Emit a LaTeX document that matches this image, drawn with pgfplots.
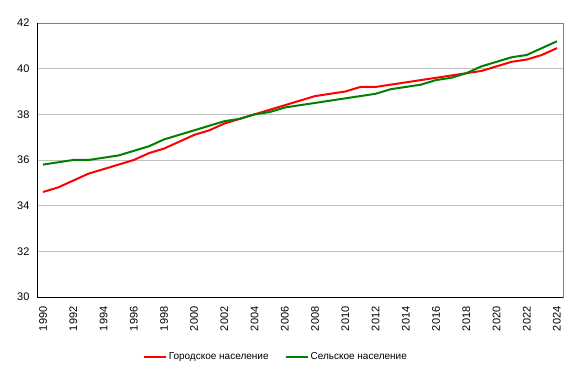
\documentclass[border=0pt]{standalone}
\usepackage{pgfplots}
\pgfplotsset{compat=1.18}
\usepackage{fontspec}
\setmainfont{Liberation Sans}
\definecolor{urb}{RGB}{255,0,0}
\definecolor{rur}{RGB}{0,128,0}
\definecolor{gridc}{RGB}{192,192,192}
\begin{document}
\begin{tikzpicture}
\useasboundingbox (-37pt,-75pt) rectangle (538pt,297pt);
\begin{axis}[
  at={(0pt,0pt)}, anchor=south west,
  scale only axis, width=526pt, height=274pt,
  xmin=1989.6, xmax=2024.4, ymin=30, ymax=42,
  xtick distance=2, ytick={30,32,...,42},
  /pgf/number format/assume math mode=true,
  /pgf/number format/1000 sep={},
  major tick length=0pt,
  tick label style={font=\fontsize{11}{13}\selectfont},
  x tick label style={rotate=90, anchor=east, xshift=-6pt},
  y tick label style={xshift=-4pt},
  ymajorgrids, grid style={gridc, line width=0.8pt},
  axis line style={gray, line width=0.8pt},
  legend style={at={(0.454,-0.219)}, anchor=center, draw=none, font=\fontsize{10}{12}\selectfont, /tikz/every even column/.append style={column sep=14pt}},
  legend columns=2,
  legend image code/.code={\draw[#1] (0pt,0pt) -- (22pt,0pt);},
]
\addplot[urb, line width=2pt] coordinates {
(1990,34.6)(1991,34.8)(1992,35.1)(1993,35.4)(1994,35.6)(1995,35.8)(1996,36.0)(1997,36.3)(1998,36.5)(1999,36.8)
(2000,37.1)(2001,37.3)(2002,37.6)(2003,37.8)(2004,38.0)(2005,38.2)(2006,38.4)(2007,38.6)(2008,38.8)(2009,38.9)
(2010,39.0)(2011,39.2)(2012,39.2)(2013,39.3)(2014,39.4)(2015,39.5)(2016,39.6)(2017,39.7)(2018,39.8)(2019,39.9)
(2020,40.1)(2021,40.3)(2022,40.4)(2023,40.6)(2024,40.9)};
\addlegendentry{Городское население}
\addplot[rur, line width=2pt] coordinates {
(1990,35.8)(1991,35.9)(1992,36.0)(1993,36.0)(1994,36.1)(1995,36.2)(1996,36.4)(1997,36.6)(1998,36.9)(1999,37.1)
(2000,37.3)(2001,37.5)(2002,37.7)(2003,37.8)(2004,38.0)(2005,38.1)(2006,38.3)(2007,38.4)(2008,38.5)(2009,38.6)
(2010,38.7)(2011,38.8)(2012,38.9)(2013,39.1)(2014,39.2)(2015,39.3)(2016,39.5)(2017,39.6)(2018,39.8)(2019,40.1)
(2020,40.3)(2021,40.5)(2022,40.6)(2023,40.9)(2024,41.2)};
\addlegendentry{Сельское население}
\draw[black, line width=0.9pt] (rel axis cs:0,1) -- (rel axis cs:0,0) -- (rel axis cs:1,0);
\node[anchor=base west, font=\itshape\fontsize{12}{14}\selectfont, inner sep=0pt] at ([xshift=16pt,yshift=6pt]rel axis cs:0,1) {Средний возраст, лет};
\end{axis}
\end{tikzpicture}
\end{document}
